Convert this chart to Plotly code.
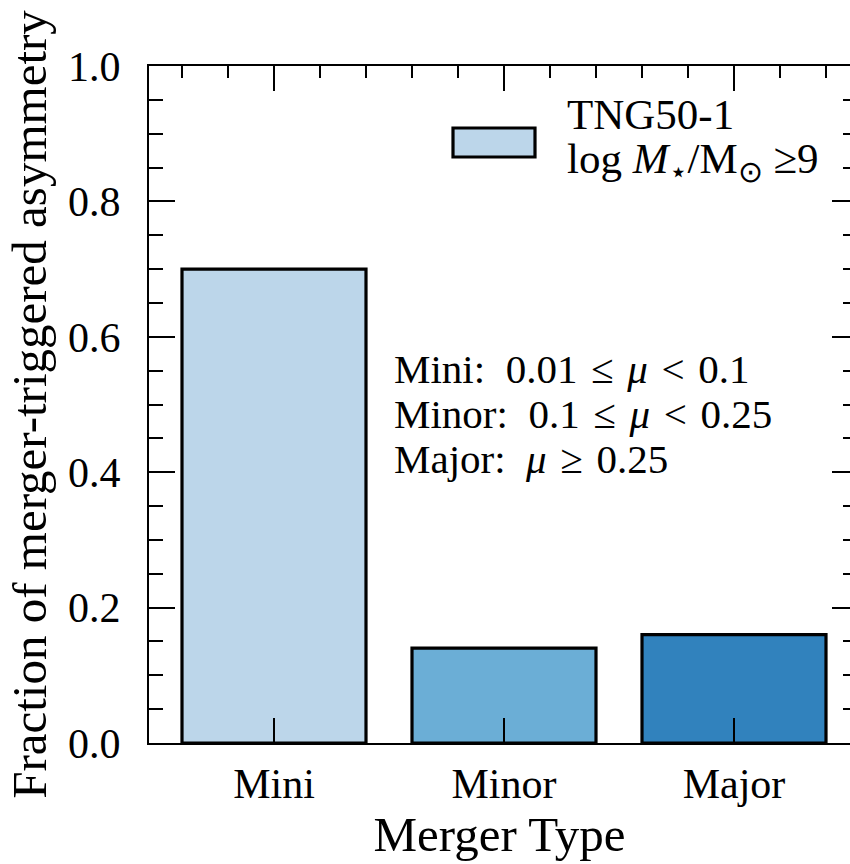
import plotly.graph_objects as go

# Merger classes and the fraction of asymmetry each one triggers
merger_types = ["Mini", "Minor", "Major"]
fractions = [0.70, 0.14, 0.16]
bar_colors = ["#bcd6ea", "#6baed6", "#3182bd"]

y_tick_vals = [0.0, 0.2, 0.4, 0.6, 0.8, 1.0]

sample_label = "TNG50-1"
mass_cut_label = "log <i>M</i><sub>⋆</sub>/M<sub>⊙</sub> ≥9"

# en space after the colon, three-per-em spaces around the relations
SP_COLON, SP_REL = "\u2002", "\u2004"
ratio_lines = [
    f"Mini:{SP_COLON}0.01{SP_REL}≤{SP_REL}<i>μ</i>{SP_REL}&lt;{SP_REL}0.1",
    f"Minor:{SP_COLON}0.1{SP_REL}≤{SP_REL}<i>μ</i>{SP_REL}&lt;{SP_REL}0.25",
    f"Major:{SP_COLON}<i>μ</i>{SP_REL}≥{SP_REL}0.25",
]

FONT = "Liberation Serif"
W, H = 850, 864
ML, MR, MT, MB = 149, 0, 66, 121
PW, PH = W - ML - MR, H - MT - MB
UNIT = 230.0  # pixels per category step
x_lo = -(274 - ML) / UNIT
x_hi = x_lo + PW / UNIT

xs = list(range(len(merger_types)))

fig = go.Figure()
fig.add_trace(go.Bar(
    x=xs, y=fractions, width=0.8,
    marker=dict(color=bar_colors, line=dict(color="black", width=3.2)),
    showlegend=False, hoverinfo="skip",
))
# empty trace so the mirrored top / right axes get drawn
fig.add_trace(go.Scatter(x=[], y=[], xaxis="x2", yaxis="y2", showlegend=False))

axis_common = dict(showgrid=False, zeroline=False, color="black",
                   linecolor="black", linewidth=2, tickcolor="black",
                   tickwidth=2, ticks="inside")

fig.update_layout(
    width=W, height=H,
    margin=dict(l=ML, r=MR, t=MT, b=MB, pad=0),
    paper_bgcolor="white", plot_bgcolor="white",
    font=dict(family=FONT, color="black", size=42),
    xaxis=dict(
        **axis_common, range=[x_lo, x_hi], showline=True,
        tickmode="array", tickvals=xs, ticktext=merger_types, ticklen=25,
        tickfont=dict(size=42), ticklabelstandoff=3,
        title=dict(text="Merger Type", font=dict(size=49), standoff=0),
    ),
    xaxis2=dict(
        **axis_common, overlaying="x", matches="x", side="top", anchor="y",
        showline=True, showticklabels=False,
        tickmode="array", tickvals=xs, ticklen=25,
        minor=dict(tickmode="linear", tick0=0, dtick=0.2, ticks="inside",
                   ticklen=12, tickwidth=2, tickcolor="black", showgrid=False),
    ),
    yaxis=dict(
        **axis_common, range=[0, 1], showline=True,
        tickmode="array", tickvals=y_tick_vals, tickformat=".1f", ticklen=26,
        minor=dict(tickmode="linear", tick0=0, dtick=0.05, ticks="inside",
                   ticklen=14, tickwidth=2, tickcolor="black", showgrid=False),
        tickfont=dict(size=42), ticklabelstandoff=18,
        title=dict(text="Fraction of merger-triggered asymmetry",
                   font=dict(size=49), standoff=6),
    ),
    yaxis2=dict(
        **axis_common, overlaying="y", matches="y", side="right", anchor="x",
        showline=False, showticklabels=False,
        tickmode="array", tickvals=y_tick_vals, ticklen=18,
        minor=dict(tickmode="linear", tick0=0, dtick=0.05, ticks="inside",
                   ticklen=7, tickwidth=2, tickcolor="black", showgrid=False),
    ),
)

def px_x(p):
    return (p - ML) / PW

def px_y(p):
    return (H - MB - p) / PH

# legend swatch and its two text lines
fig.add_shape(type="rect", xref="paper", yref="paper",
              x0=px_x(453), x1=px_x(535), y0=px_y(157), y1=px_y(128),
              fillcolor=bar_colors[0], line=dict(color="black", width=3.2))
for text, yc in zip([sample_label, mass_cut_label], [115, 162]):
    fig.add_annotation(text=text, xref="paper", yref="paper",
                       x=px_x(565), y=px_y(yc), xanchor="left", yanchor="middle",
                       showarrow=False, font=dict(size=43))

# mass-ratio definitions
for i, text in enumerate(ratio_lines):
    fig.add_annotation(text=text, xref="paper", yref="paper",
                       x=px_x(392), y=px_y(369 + 45 * i),
                       xanchor="left", yanchor="middle",
                       showarrow=False, font=dict(size=41))

fig.write_html("out.html")
